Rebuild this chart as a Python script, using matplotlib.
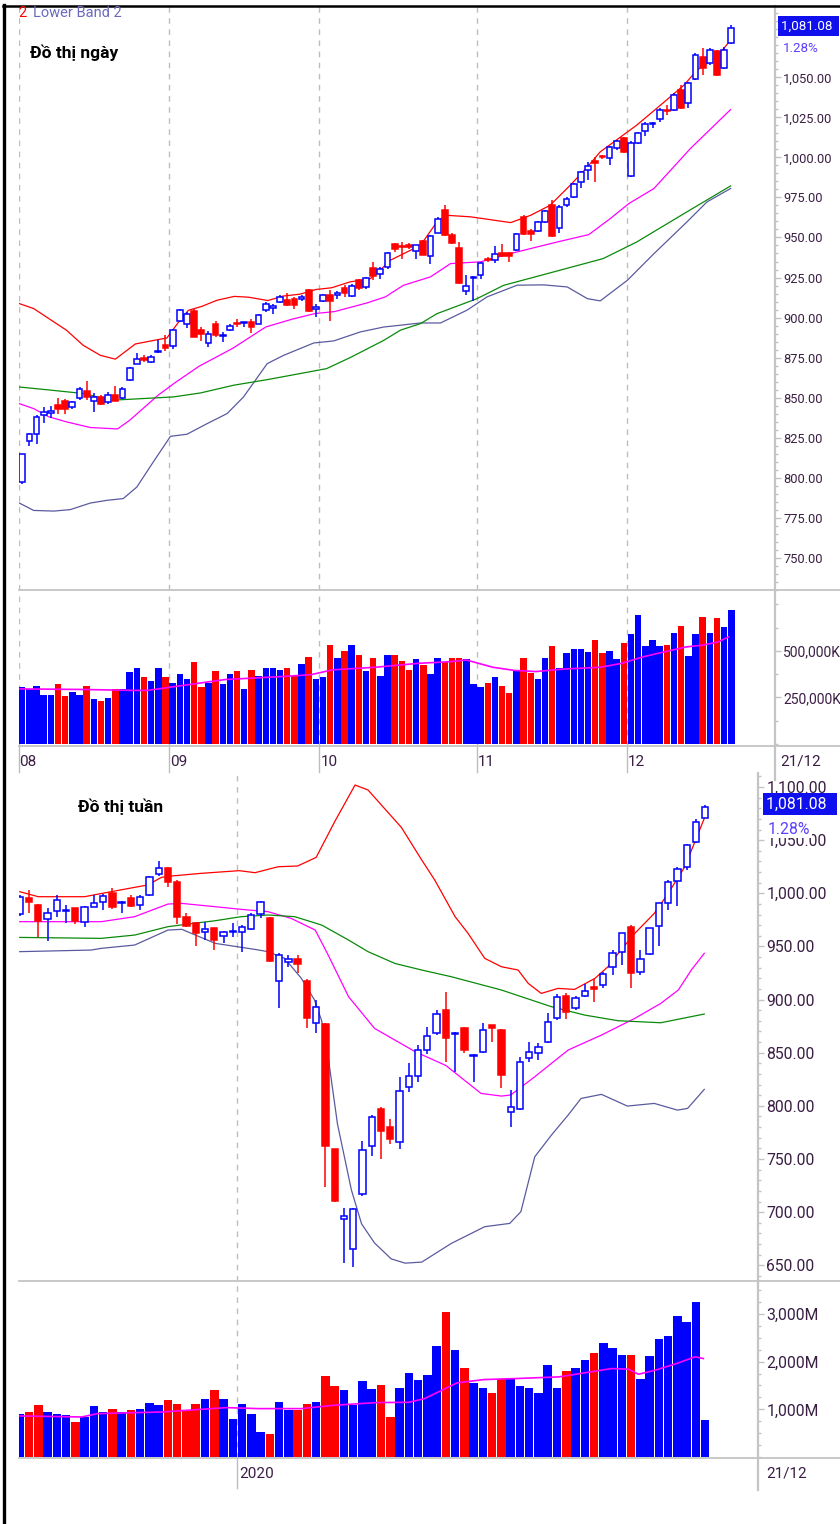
import matplotlib
matplotlib.use("Agg")
import matplotlib.pyplot as plt
from matplotlib.lines import Line2D

# ---------------- daily data (Aug -> 21 Dec) ----------------
d_open = [797, 823, 827.5, 839, 840.5, 845.4, 848, 844, 850, 854.3,
          848, 850.4, 847.5, 851.8, 849.8, 860.8, 871.2, 874.5, 872.3, 878.5,
          882.9, 882.3, 897.9, 896.2, 904, 892, 884.3, 895.8, 888.5, 892.1,
          896.6, 896.6, 897.5, 896.2, 904.5, 905.8, 909.8, 910.8, 911.6, 911.4,
          917.5, 905.4, 910.2, 914.3, 914.1, 918.5, 913.5, 923.7, 919.3, 931.2,
          927.1, 931.6, 946, 944.5, 945.2, 941.4, 948.1, 938.5, 953.1, 967.4,
          951.8, 943.5, 916.8, 924.8, 926.4, 936.6, 935.8, 940.4, 940.4, 942,
          962.9, 954.3, 954.1, 959.7, 970.1, 956.2, 970.1, 975.4, 984.7, 992,
          997.5, 1000.8, 999.7, 1006, 1012.2, 988.5, 1009.3, 1016.8, 1020.9, 1024.3,
          1029.8, 1029.7, 1042, 1033.7, 1049.3, 1062.9, 1058.7, 1066.4, 1056, 1071.2]
d_high = [815, 828, 839, 844, 844.5, 850, 849, 848, 856.6, 860.6,
          853, 851.8, 853.5, 857.5, 856.6, 869, 877.9, 876.8, 876.6, 886,
          889, 893.1, 905.6, 903.5, 905.6, 894.1, 891.4, 897.9, 891, 895.8,
          899.3, 897.5, 899.3, 902, 909.8, 908.7, 913.9, 915.4, 912.9, 914.3,
          918.1, 908.7, 914.9, 917.5, 916.6, 920.2, 920.8, 924.3, 925.4, 934.8,
          931.6, 941, 946.5, 947.2, 946.4, 945.6, 948.5, 951.4, 962.5, 970.6,
          953, 947.2, 926.4, 926, 934.8, 937.9, 944.5, 946, 941, 953,
          963.9, 955, 960.5, 967, 973.3, 970.1, 975.4, 984, 991.6, 997.2,
          1000.4, 1001.4, 1007, 1011.2, 1013, 1010, 1016, 1022.2, 1022.2, 1031,
          1032.6, 1040, 1045.2, 1047.2, 1065, 1068.1, 1068.1, 1067, 1069, 1082.7]
d_low = [796, 819.5, 821, 834, 837.5, 840, 840, 843, 848.7, 848.7,
         841, 845.4, 846.2, 847.7, 849.3, 860.5, 871, 872.3, 871.8, 878,
         879.1, 880.6, 897.3, 893.5, 887.9, 885.4, 881.6, 888, 884.8, 891.6,
         894.1, 894, 890.6, 895.8, 903.5, 902.5, 909.1, 907, 905.6, 910.2,
         903.5, 900.4, 909.8, 897.9, 911.8, 912.9, 912.9, 917, 917.9, 923.3,
         924.3, 930.5, 941, 936.8, 943, 936.8, 938.9, 933.7, 952.5, 950.8,
         946, 921, 913.9, 910.2, 924.3, 934.8, 934.3, 937.9, 934.8, 941.5,
         951.5, 947.7, 953.5, 959, 950.4, 953.1, 969.1, 974.8, 981, 985.8,
         984.7, 998.9, 995.1, 1004.5, 1002.5, 988, 1008.6, 1013.5, 1018.5, 1022.2,
         1026.4, 1029, 1030, 1031, 1048.5, 1051.8, 1057.7, 1051, 1055, 1070.6]
d_close = [814.5, 827.5, 838, 841, 841.5, 843, 843, 847, 855.4, 850.4,
           850.4, 846.2, 851.6, 847.9, 855.6, 868.7, 874.3, 873.7, 875.4, 879,
           881.2, 892.1, 904.5, 902.1, 888, 890, 890, 888.9, 889.4, 895,
           895.8, 897.3, 894.1, 901.4, 908.7, 907.1, 912.9, 908.1, 908.1, 912.7,
           904, 906.6, 914.3, 910.2, 915.4, 915.4, 920, 918.5, 924.5, 925.8,
           930.2, 940.4, 943, 943.8, 944.3, 945.2, 939.3, 950.8, 961.8, 951.4,
           946.6, 921.6, 919.7, 925.4, 933.9, 936.1, 939.7, 938.3, 938.5, 952.4,
           952, 952.4, 959.7, 966.4, 950.8, 969.1, 974.3, 983.3, 991, 994.7,
           996.8, 1000.2, 1006.6, 1010.4, 1003.3, 1009.3, 1015.2, 1020.6, 1021.5, 1029.7,
           1029.2, 1039.3, 1030.6, 1046.6, 1064.3, 1056, 1067.4, 1051.8, 1067.4, 1081.08]
d_volume = [305, 293, 314, 265, 265, 321, 258, 281, 265, 314,
            242, 233, 249, 293, 296, 389, 407, 360, 337, 407,
            360, 328, 375, 351, 439, 305, 328, 391, 321, 375,
            391, 296, 398, 367, 407, 407, 398, 407, 363, 430,
            468, 351, 360, 533, 461, 500, 533, 477, 391, 461,
            367, 477, 477, 446, 398, 454, 423, 375, 461, 439,
            461, 461, 454, 321, 305, 328, 360, 312, 274, 391,
            461, 382, 351, 461, 524, 407, 486, 509, 509, 493,
            556, 486, 500, 454, 540, 588, 691, 524, 556, 524,
            533, 595, 635, 470, 588, 682, 595, 674, 626, 719]  # thousand K

d_upper_x = [-0.4, 1.6, 6.2, 8.5, 10.9, 13, 15.8, 18.7, 20.2, 21.8, 23.2, 25.1, 27.2,
             29.6, 31.6, 34.3, 36.4, 38.8, 41, 43.2, 45.8, 47.6, 48.6, 50.2, 51.4,
             55.6, 57.9, 59.1, 62.6, 68.2, 71, 73.7, 76.5, 78.9, 80.7, 82.6, 85.8,
             89.1, 92.4, 94.2, 97, 98.9]
d_upper_y = [908.7, 905.6, 892, 882.7, 876.4, 874, 883.5, 886, 887.2, 897, 904.5, 907, 910.8,
             913.2, 912.7, 910.6, 913.4, 914.6, 917.5, 918.6, 922.3, 923.5, 924.3, 930.6, 935.8,
             945.1, 959.7, 963.9, 962.9, 959.3, 963.9, 970.1, 982.6, 994, 1003.5, 1009.7, 1020.2,
             1032.6, 1045.2, 1054.5, 1062.9, 1073.3]
d_mid_x = [-0.4, 1.6, 3.7, 6.2, 9.5, 13.3, 15, 19, 21.5, 24.7, 29.4, 34, 37.7, 40.9,
           43.6, 48.2, 50.7, 53.2, 57, 59.8, 64, 68.2, 71.9, 74.7, 79.1, 82.1, 84.7,
           88.2, 93.3, 98.9]
d_mid_y = [846.2, 843.1, 838, 834.8, 831.3, 830.4, 835.8, 851.6, 859.8, 869.6, 880.8, 894.1, 899, 902.5,
           903.7, 909.2, 912.9, 920.1, 925.4, 933.7, 934.8, 940, 944.1, 947.2, 951.8, 961.8, 971.2,
           980.6, 1005.6, 1029.9]
d_lower_x = [-0.4, 1.6, 4.4, 6.7, 9.5, 11.8, 14.1, 16, 18.3, 20.7, 23, 25.8, 28.6, 30.9,
             34.2, 36.5, 40.7, 43.5, 47.2, 50.5, 52.8, 55.6, 58.4, 62.1, 64.9, 69.1,
             72.8, 76.1, 78.9, 80.7, 84.5, 88.2, 92.8, 95.6, 98.9]
d_lower_y = [784.1, 779.5, 779.1, 780, 784.1, 785.8, 786.9, 794.1, 809.8, 825.8, 827.1, 833.7, 840, 850.4,
             871.2, 876.4, 884.1, 885.4, 891, 894.1, 895.2, 896.6, 896.6, 904.6, 912.9, 920.2,
             920.4, 919.1, 911.8, 910.4, 923.3, 939.9, 959.7, 972.2, 980.6]
d_ma_x = [-0.4, 4.3, 8.6, 12.3, 16.5, 21.1, 24.9, 29.5, 34.2, 38.8, 42.5, 45.8, 50.5,
          52.8, 55.6, 57.9, 63.5, 67.2, 74.2, 81.1, 85.8, 92.8, 98.9]
d_ma_y = [856.6, 854.5, 852.5, 848.3, 849.3, 850.4, 852.9, 857.7, 861.2, 865, 868.1, 875, 885.8,
          892.1, 896.2, 902.4, 911.8, 920.1, 928.5, 936.8, 947.2, 966, 982.2]
d_volma_x = [-0.45, 8.2, 15.6, 17.5, 21.6, 28.3, 36.6, 40.3, 43.3, 49.3, 55.3, 59.8, 62,
             65.7, 68.7, 71.7, 75.5, 80.7, 83.7, 86.7, 89.7, 92.7, 94.9, 97.1, 98.6]
d_volma_y = [296, 293, 288, 288, 310, 346, 363, 372, 398, 412, 433, 442, 451,
             412, 395, 389, 402, 412, 433, 468, 495, 521, 530, 547, 574]
d_month_pos = [-0.5, 20.5, 41.5, 63.5, 84.5]
d_month_lab = ["08", "09", "10", "11", "12"]

# ---------------- weekly data ----------------
w_open = [980.5, 995.9, 988.9, 975.8, 983.6, 983, 985.8, 973.3, 987.4, 992.1,
          999.9, 990.5, 995.5, 989, 998.4, 1018.1, 1024.1, 1010.9, 978, 971.7,
          963.9, 967, 960.1, 963.6, 963.6, 966.1, 980.5, 976.4, 917.8, 935,
          938.1, 917.8, 877.6, 877, 759, 694, 664.9, 716.7, 762.5, 796.7,
          780.4, 765.6, 818, 828, 852.5, 868.2, 890.2, 867.5, 872.9, 846.5,
          850.9, 876, 871.3, 794.5, 796.7, 844.7, 849.4, 860.4, 882.3, 903.3,
          891.7, 903.6, 912.1, 913.7, 931, 945.1, 968.6, 926.2, 942.9, 969.2,
          991.2, 1011.9, 1024.4, 1048.6, 1071.2]
w_high = [998, 1003, 989.5, 985.8, 998.4, 989, 986.5, 988, 998.4, 999.3,
          1004.6, 992.5, 998.4, 998.4, 1016.2, 1030.7, 1025, 1012.5, 981.8, 973.3,
          973.3, 967.5, 964.8, 971.7, 970.1, 981.1, 992.7, 978, 944.1, 941.9,
          941.9, 919, 899.6, 878, 759.5, 703.5, 703.5, 767.2, 791.3, 798.5,
          787.3, 826.8, 840.6, 857, 874.5, 890.2, 907.4, 869.5, 874.5, 848.5,
          878.2, 876.5, 872, 814.9, 846.2, 860.4, 858.8, 887, 905.2, 906.5,
          903.3, 914.6, 919, 926.2, 946.6, 963, 970.1, 946.6, 967.5, 991.2,
          1012.5, 1025, 1046.4, 1069.6, 1082.7]
w_low = [979, 981.8, 958.5, 955.4, 978, 971.7, 971.1, 968, 986.8, 984.3,
         984.9, 981.8, 987.4, 984.3, 997.4, 1016.2, 1006.2, 971.1, 968.6, 950.4,
         956, 946.6, 952.9, 958.5, 945, 965.4, 976.4, 935, 891.7, 930.9,
         924.7, 872.9, 868.2, 723.3, 710, 651.7, 648.6, 715, 752.8, 749.6,
         764, 759.3, 813.3, 822.7, 849, 866.6, 841.5, 832, 849.4, 822.7,
         849.4, 860.4, 816.4, 780.4, 796, 841.5, 843.1, 858.8, 880.7, 881.4,
         890.2, 902.7, 898, 910.5, 923.1, 932.5, 910.5, 923.1, 942, 950.4,
         984.3, 988, 1021.9, 1047.6, 1070.6]
w_close = [996.8, 991.5, 974.2, 981.1, 993.7, 984.3, 974.2, 987.4, 990.5, 997.4,
           986.8, 991.8, 988.3, 996.8, 1015.6, 1023.5, 1010.9, 978, 969.2, 962.3,
           966.7, 956, 963.2, 964.8, 968.6, 979.6, 992.1, 936.6, 941.9, 938.1,
           933.4, 882.3, 892.7, 762.2, 710.4, 696, 702.9, 758.4, 789.8, 776.3,
           768.4, 813.9, 828, 853, 865.7, 886.1, 863.5, 868.8, 852.5, 847.8,
           871.3, 873, 829, 798.5, 841.5, 851, 855, 879.2, 902.7, 888.6,
           901.8, 908.3, 909.6, 924, 943.5, 962.3, 925.3, 937.8, 967, 990.5,
           1010.9, 1022.5, 1045.4, 1067.4, 1081.08]
w_volume = [910, 945, 1092, 945, 910, 875, 735, 840, 1064, 945,
            1015, 945, 980, 1015, 1134, 1085, 1190, 1120, 980, 1120,
            1225, 1414, 1225, 805, 1120, 910, 525, 490, 1155, 994,
            994, 1120, 1155, 1694, 1484, 1414, 1085, 1589, 1435, 1512,
            840, 1449, 1764, 1624, 1715, 2324, 3031, 2254, 1869, 1554,
            1449, 1344, 1645, 1645, 1484, 1449, 1344, 1939, 1449, 1799,
            1869, 2044, 2184, 2394, 2289, 2149, 2149, 1631, 2114, 2464,
            2534, 2961, 2821, 3241, 770]  # million

w_upper_x = [0, 2, 7, 8.5, 12.4, 13.8, 15.3, 16.4, 19.6, 23.7, 25.4, 27.9, 30, 32, 34,
             36.2, 37.6, 41.2, 43.4, 44.8, 47, 48.4, 50.2, 52, 53.8, 54.9, 56.3, 58.1,
             59.9, 62.1, 63.5, 64.9, 66.4, 68.5, 70, 71.8, 73.9]
w_upper_y = [1001.5, 996.8, 996.8, 999.3, 1005.6, 1007.8, 1015, 1016.3, 1018.8, 1021.3, 1019.4,
             1025, 1025.7, 1033.8, 1067.4, 1101.9, 1097.2, 1062, 1031.3, 1012.5, 978, 962.3,
             938.8, 930.9, 927.8, 915.2, 905.8, 910.5, 909.6, 920, 930.9, 946.6, 962.3, 981.1,
             999.9, 1025, 1070.5]
w_mid_x = [0, 8.8, 12.4, 16, 17.5, 21.1, 23.9, 26.8, 29.3, 31.9, 33.3, 35.5, 38.3, 42.7,
           46, 49.8, 52, 53, 55.6, 59.2, 62.8, 66.4, 69.2, 71.1, 72.5, 73.9]
w_mid_y = [973.3, 973.3, 978, 989.9, 990.5, 987.4, 984.9, 982.7, 976.4, 965.4, 941.9, 902.7,
           872.9, 850.9, 838, 811.7, 809.2, 810.2, 827.4, 852.5, 866.6, 882.3, 896.4, 909,
           927.8, 943.5]
w_lower_x = [0, 7.7, 8.8, 12.4, 16, 17.5, 21.1, 25.4, 26.8, 28.6, 30.4, 31.8, 32.6, 33.2,
             34.3, 35.8, 36.9, 38.3, 40.1, 41.6, 43.4, 46.6, 50.2, 52.9, 54.1, 55.6, 57.4,
             59.2, 60.6, 62.8, 65.6, 68.5, 71, 72.1, 73.9]
w_lower_y = [945.1, 946.6, 948.2, 951.3, 965.4, 966.1, 952.9, 947.2, 945.1, 938.8, 920, 900,
             880, 852, 783, 721, 689, 671, 656, 652, 653, 670.6, 686.3, 689.4, 700.4, 752.1,
             772.5, 791.3, 807, 810.8, 799.8, 802.3, 796, 797.6, 815.5]
w_ma_x = [0, 8.8, 12.4, 16, 18.2, 21.1, 23.9, 26.8, 29.7, 32.6, 35.5, 37.6, 40.5, 43.4,
          46.6, 52, 57.4, 61, 64.6, 69.2, 73.9]
w_ma_y = [958.5, 957.6, 960.7, 968.6, 971.1, 974.2, 978, 979.6, 978, 970.1, 956, 945.1, 934,
          927.8, 921.5, 909, 893.3, 885.4, 880.1, 878.2, 886.4]
w_volma_x = [0, 6.7, 8.4, 15.4, 22.3, 25.8, 30.4, 33.9, 38.5, 42, 43.7, 47.2, 50.1, 53.5,
             58.2, 60.5, 63.9, 65.7, 66.8, 68.6, 70.9, 72.9, 73.8]
w_volma_y = [861, 840, 910, 945, 1036, 1015, 1015, 1085, 1141, 1148, 1225, 1554, 1624, 1645,
             1680, 1750, 1855, 1841, 1736, 1820, 1960, 2100, 2065]

# ---------------- styling ----------------
W, H = 840, 1524
BLUE = "#0000ff"
RED = "#ff0000"
MAG = "#ff00ff"
GREEN = "#0a8a0a"
NAVY = "#5a5aa0"
GRID = "#bdbdbd"
AXC = "#c4c4c4"
TXT = "#3a1e44"
LAB = ["Roboto", "DejaVu Sans"]
TITLE = ["Roboto", "Noto Sans", "DejaVu Sans"]

fig = plt.figure(figsize=(W / 100, H / 100), dpi=100)


def fx(x):
    return x / W


def fy(y):
    return 1 - y / H


def box(x0, y0, x1, y1):
    return [fx(x0), fy(y1), (x1 - x0) / W, (y1 - y0) / H]


def fline(xs, ys, color, lw, **kw):
    fig.add_artist(Line2D([fx(v) for v in xs], [fy(v) for v in ys],
                          color=color, lw=lw, **kw))


def ftext(x, y, s, **kw):
    fig.text(fx(x), fy(y), s, va="center", **kw)


def candles(ax, o, h, l, c, width, mind):
    for k in range(len(o)):
        up = c[k] >= o[k]
        col = BLUE if up else RED
        ax.vlines(k, l[k], h[k], color=col, lw=1.1, zorder=3)
        b = min(o[k], c[k])
        ht = max(abs(c[k] - o[k]), mind)
        ax.bar(k, ht, width, b, facecolor="white" if up else RED,
               edgecolor=col, lw=1.1, zorder=4)


def setup(ax, xlim, ylim, ticks, labels, size, minor=None):
    ax.set_xlim(*xlim)
    ax.set_ylim(*ylim)
    for s in ax.spines.values():
        s.set_visible(False)
    ax.set_xticks([])
    ax.yaxis.tick_right()
    ax.set_yticks(ticks)
    ax.set_yticklabels(labels, family=LAB, fontsize=size, color=TXT)
    ax.tick_params(axis="y", length=4, width=1, color=AXC, pad=2)
    if minor is not None:
        ax.set_yticks(minor, minor=True)
        ax.tick_params(axis="y", which="minor", length=2, width=1, color=AXC)
    ax.patch.set_alpha(0)


# ---------------- daily chart ----------------
dx = [k for k in range(len(d_open))]
axD = fig.add_axes(box(19, 6, 775, 590))
candles(axD, d_open, d_high, d_low, d_close, 0.8, 0.6)
axD.plot(d_upper_x, d_upper_y, color=RED, lw=0.9, zorder=2)
axD.plot(d_mid_x, d_mid_y, color=MAG, lw=0.9, zorder=2)
axD.plot(d_lower_x, d_lower_y, color=NAVY, lw=0.9, zorder=2)
axD.plot(d_ma_x, d_ma_y, color=GREEN, lw=0.9, zorder=2)
dt = [750 + 25 * k for k in range(13)]
setup(axD, (-0.45, 105.1), (729.8, 1094.6), dt, [f"{v:,.2f}" for v in dt], 9.3,
      [730 + 5 * k for k in range(73)])
for p in d_month_pos:
    axD.axvline(p, color=GRID, lw=1, ls=(0, (4, 4)), zorder=1)

axDV = fig.add_axes(box(19, 590, 775, 746))
d_col = [BLUE if d_close[k] >= d_open[k] else RED for k in dx]
axDV.bar(dx, d_volume, 0.9, color=d_col, zorder=2)
axDV.plot(d_volma_x, d_volma_y, color=MAG, lw=1.2, zorder=3)
setup(axDV, (-0.45, 105.1), (-10, 826), [250, 500], ["250,000K", "500,000K"], 10,
      [0, 125, 375, 625, 750])
for p in d_month_pos:
    axDV.axvline(p, color=GRID, lw=1, ls=(0, (4, 4)), zorder=1)

# ---------------- weekly chart ----------------
wx = [k for k in range(len(w_open))]
axW = fig.add_axes(box(19, 773, 758, 1281))
candles(axW, w_open, w_high, w_low, w_close, 0.68, 0.8)
axW.plot(w_upper_x, w_upper_y, color=RED, lw=0.9, zorder=2)
axW.plot(w_mid_x, w_mid_y, color=MAG, lw=0.9, zorder=2)
axW.plot(w_lower_x, w_lower_y, color=NAVY, lw=0.9, zorder=2)
axW.plot(w_ma_x, w_ma_y, color=GREEN, lw=0.9, zorder=2)
wt = [650 + 50 * k for k in range(10)]
setup(axW, (-0.08, 79.7), (635.2, 1113.2), wt, [f"{v:,.2f}" for v in wt], 11.3,
      [640 + 10 * k for k in range(48)])
axW.axvline(23.5, color=GRID, lw=1, ls=(0, (4, 4)), zorder=1)

axWV = fig.add_axes(box(19, 1281, 758, 1458))
w_col = [BLUE if w_close[k] >= w_open[k] else RED for k in wx]
axWV.bar(wx, w_volume, 0.92, color=w_col, zorder=2)
axWV.plot(w_volma_x, w_volma_y, color=MAG, lw=1.2, zorder=3)
setup(axWV, (-0.08, 79.7), (-20, 3690), [1000, 2000, 3000],
      ["1,000M", "2,000M", "3,000M"], 11.3, [250 * k for k in range(15)])
axWV.axvline(23.5, color=GRID, lw=1, ls=(0, (4, 4)), zorder=1)

# ---------------- frame, separators, axis lines ----------------
for y in (590, 746):
    fline([19, 840], [y, y], AXC, 1.3)
for y in (1281, 1458):
    fline([19, 840], [y, y], AXC, 1.3)
fline([775, 775], [6, 780], AXC, 1.6)
fline([758, 758], [773, 1490], AXC, 1.6)
fline([4, 4], [5, 1524], "black", 2.4)
fline([3, 840], [5.5, 5.5], "black", 1.8)

# date labels
for p, s in zip(d_month_pos, d_month_lab):
    xp = 22.2 + 7.16 * p
    fline([xp, xp], [746, 772], GRID, 1)
    ftext(xp + 1, 762, s, family=LAB, fontsize=11, color=TXT)
ftext(780, 762, "21/12", family=LAB, fontsize=11, color=TXT)
xw = 19.7 + 9.26 * 23.5
fline([xw, xw], [1458, 1488], GRID, 1)
ftext(xw + 2, 1474, "2020", family=LAB, fontsize=11, color=TXT)
ftext(766, 1474, "21/12", family=LAB, fontsize=11, color=TXT)

# last value boxes
ftext(781, 26, "1,081.08 ", family=LAB, fontsize=9.6, color="white",
      bbox=dict(boxstyle="square,pad=0.25", fc="#1010ee", ec="none"))
ftext(783, 49, "1.28%", family=LAB, fontsize=9.6, color="#5a40ff",
      bbox=dict(boxstyle="square,pad=0.1", fc="white", ec="none"))
ftext(766, 804, "1,081.08  ", family=LAB, fontsize=11.3, color="white",
      bbox=dict(boxstyle="square,pad=0.2", fc="#1010ee", ec="none"))
ftext(768, 829, "1.28%", family=LAB, fontsize=11.3, color="#5a40ff",
      bbox=dict(boxstyle="square,pad=0.1", fc="white", ec="none"))

# titles and legend
ftext(30, 53, "Đồ thị ngày", family=TITLE, fontsize=12.5, fontweight="bold", color="black")
ftext(78, 807, "Đồ thị tuần", family=TITLE, fontsize=12.5, fontweight="bold", color="black")
ftext(18, 13, "2", family=LAB, fontsize=10.5, color=RED)
ftext(33, 13, "Lower Band 2", family=LAB, fontsize=10.5, color="#6a6abf")

fig.savefig("out.png", dpi=100)
